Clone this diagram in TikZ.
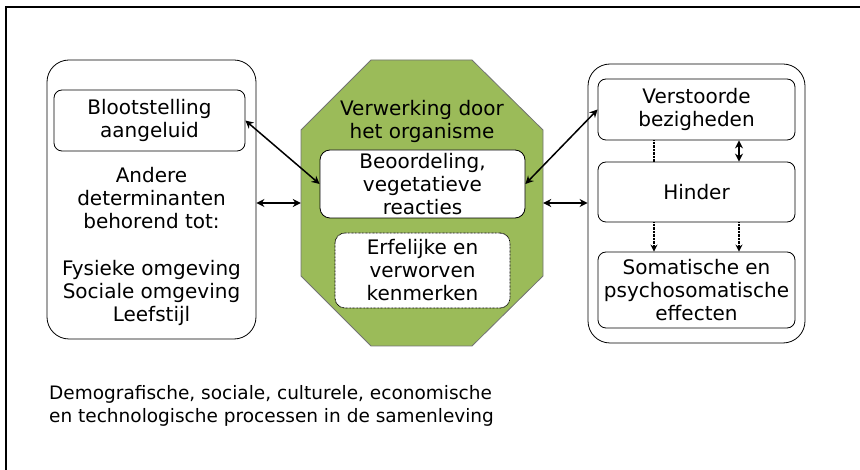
\documentclass[tikz,border=0pt]{standalone}
\usepackage{fontspec}
\setmainfont{DejaVu Sans}
\usetikzlibrary{arrows.meta}
\definecolor{orggreen}{RGB}{155,187,89}

\begin{document}
\begin{tikzpicture}[x=1pt, y=-1pt,
    outerbox/.style={draw, line width=0.8pt, rounded corners=22pt, inner sep=0pt},
    box/.style={draw, line width=0.8pt, rounded corners=8pt, fill=white, inner sep=0pt, align=center, font=\fontsize{20}{23}\selectfont},
    txt/.style={inner sep=0pt, align=center, font=\fontsize{20}{23}\selectfont},
    link/.style={{Stealth[length=8pt,width=8pt]}-{Stealth[length=8pt,width=8pt]}, line width=1.5pt},
    dotlink/.style={dash pattern=on 0.8pt off 0.6pt, line width=1.2pt}]
            \useasboundingbox (0,0) rectangle (860,470);
            \draw[line width=2pt] (6,472) -- (6,7) -- (862,7);

            % links
            \node[outerbox, minimum width=209pt, minimum height=279pt] (env) at (151.5,199.5) {};
            \node[box, minimum width=191pt, minimum height=61pt] (noise) at (149.5,120.5) {Blootstelling\\aangeluid};
            \node[txt] (other) at (151.5,198) {Andere\\determinanten\\behorend tot:};
            \node[txt] (kinds) at (151.5,293) {Fysieke omgeving\\Sociale omgeving\\Leefstijl};

            % midden
            \fill[orggreen, draw=black!55, line width=0.8pt] (301,130) -- (371,60) -- (472,60) -- (543,130)
                -- (543,276) -- (472,346) -- (371,346) -- (301,276) -- cycle;
            \node[minimum width=242pt, minimum height=286pt, inner sep=0pt] (org) at (422,203) {};
            \node[txt] (title) at (422,121) {Verwerking door\\het organisme};
            \node[box, rounded corners=10pt, minimum width=205pt, minimum height=68pt] (judge) at (422.5,184) {Beoordeling,\\vegetatieve\\reacties};
            \node[box, rounded corners=10pt, dash pattern=on 0.8pt off 0.6pt, minimum width=175pt, minimum height=75pt] (traits) at (422.5,270.5) {Erfelijke en\\verworven\\kenmerken};

            % rechts
            \node[outerbox, minimum width=217pt, minimum height=279pt] (effects) at (696.5,203.5) {};
            \node[box, minimum width=197pt, minimum height=61pt] (busy) at (696.5,109.5) {Verstoorde\\bezigheden};
            \node[box, minimum width=197pt, minimum height=60pt] (annoy) at (696.5,192) {Hinder};
            \node[box, minimum width=197pt, minimum height=76pt] (soma) at (696.5,290) {Somatische en\\psychosomatische\\effecten};

            \draw[link] (noise.east) -- (judge.west);
            \draw[link] (env.east |- org.west) -- (org.west);
            \draw[link] (judge.east) -- (busy.west);
            \draw[link] (org.east) -- (effects.west |- org.east);

            \draw[dotlink] (busy.south -| 654,0) -- (annoy.north -| 654,0);
            \draw[link] (busy.south -| 739,0) -- (annoy.north -| 739,0);
            \draw[dotlink, -{Stealth[length=7pt,width=7pt]}] (annoy.south -| 654,0) -- (soma.north -| 654,0);
            \draw[dotlink, -{Stealth[length=7pt,width=7pt]}] (annoy.south -| 739,0) -- (soma.north -| 739,0);

            \node[inner sep=0pt, anchor=west, align=left, font=\fontsize{18.5}{23}\selectfont] (society) at (49,406)
                {Demografische, sociale, culturele, economische\\en technologische processen in de samenleving};
        \end{tikzpicture}
\end{document}
